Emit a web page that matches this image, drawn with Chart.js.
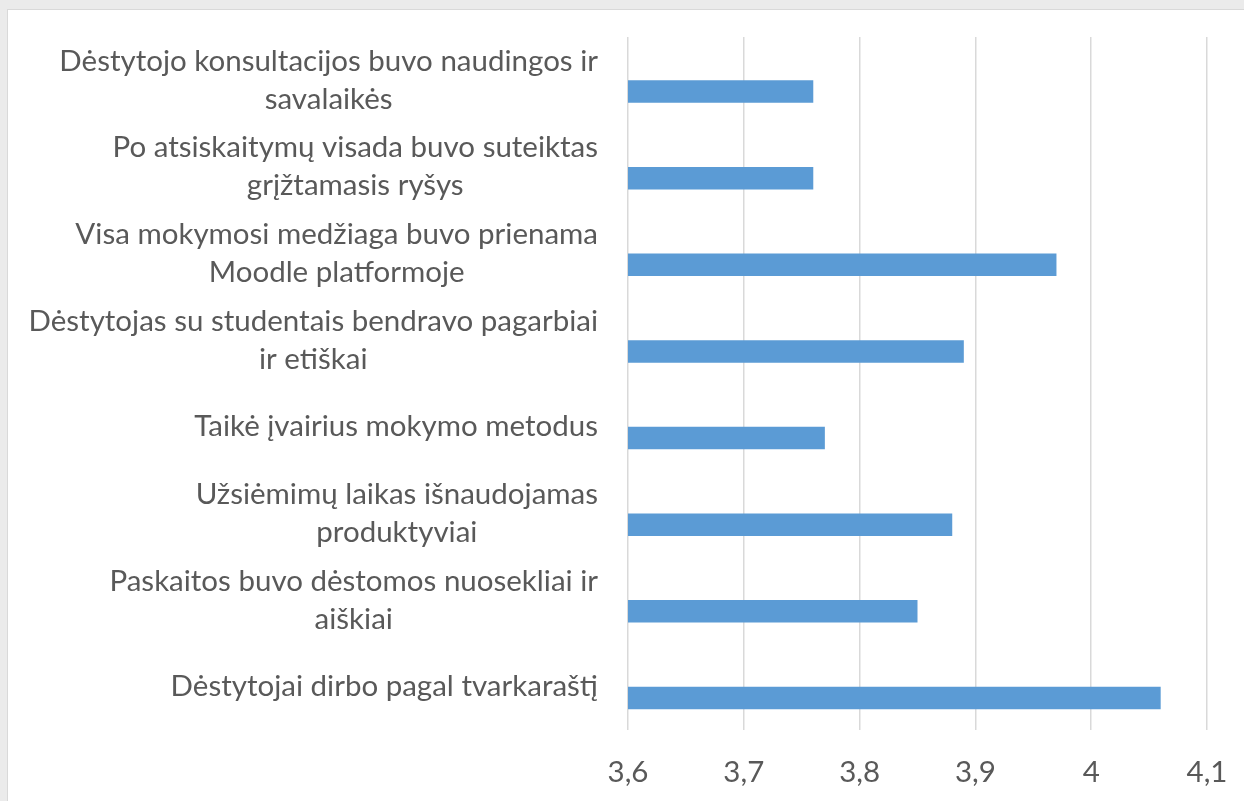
<!DOCTYPE html>
<html>
<head>
<meta charset="utf-8">
<script src="https://cdn.jsdelivr.net/npm/chart.js@4"></script>
<style>
    html, body { margin: 0; padding: 0; background: #ebebeb; overflow: hidden; }
    #frame { position: absolute; left: 7px; top: 9px; width: 1300px; height: 900px; background: #fff; border: 1px solid #d9d9d9; }
    #chart { position: absolute; left: 0; top: 0; }
</style>
</head>
<body>
<div id="frame"></div>
<canvas id="chart" width="1244" height="801"></canvas>
<script>
// Kategorijos (eilutės jau suskaidytos kaip paveikslėlyje)
const categories = [
    ['Dėstytojo konsultacijos buvo naudingos ir', 'savalaikės'],
    ['Po atsiskaitymų visada buvo suteiktas', 'grįžtamasis ryšys'],
    ['Visa mokymosi medžiaga buvo prienama', 'Moodle platformoje'],
    ['Dėstytojas su studentais bendravo pagarbiai', 'ir etiškai'],
    ['Taikė įvairius mokymo metodus'],
    ['Užsiėmimų laikas išnaudojamas', 'produktyviai'],
    ['Paskaitos buvo dėstomos nuosekliai ir', 'aiškiai'],
    ['Dėstytojai dirbo pagal tvarkaraštį']
];

// Vidutiniai įvertinimai
const scores = [3.76, 3.76, 3.97, 3.89, 3.77, 3.88, 3.85, 4.06];

// Ašies ribos
const axisMin = 3.6;
const axisMax = 4.1;
const axisStep = 0.1;

const labelFont = '29.5px Lato';
const textColor = '#595959';

// Kategorijų pavadinimai: blokas lygiuojamas dešinėje, eilutės centruojamos
const categoryLabels = {
    id: 'categoryLabels',
    afterDraw(chart) {
        const ctx = chart.ctx;
        const yScale = chart.scales.y;
        const rightEdge = chart.chartArea.left - 30;
        const lineHeight = 38;
        ctx.save();
        ctx.font = labelFont;
        ctx.fillStyle = textColor;
        ctx.textAlign = 'center';
        ctx.textBaseline = 'middle';
        chart.data.labels.forEach((lines, i) => {
            const y = yScale.getPixelForTick(i);
            const maxW = Math.max(...lines.map(l => ctx.measureText(l).width));
            const cx = rightEdge - maxW / 2;
            const top = y - (lines.length - 1) * lineHeight / 2;
            lines.forEach((l, j) => ctx.fillText(l, cx, top + j * lineHeight));
        });
        ctx.restore();
    }
};

new Chart(document.getElementById('chart'), {
    type: 'bar',
    data: {
        labels: categories,
        datasets: [
            { label: '', data: [] },
            {
                label: 'Vidurkis',
                data: scores,
                backgroundColor: '#5b9bd5',
                borderWidth: 0
            }
        ]
    },
    options: {
        indexAxis: 'y',
        responsive: false,
        animation: false,
        categoryPercentage: 0.52,
        barPercentage: 1,
        layout: { padding: { left: 628, top: 37, right: 37, bottom: 0 } },
        plugins: {
            legend: { display: false },
            tooltip: { enabled: false }
        },
        scales: {
            x: {
                min: axisMin,
                max: axisMax,
                afterFit: scale => {
                    scale.height = 71;
                    scale.paddingLeft = 0;
                    scale.paddingRight = 0;
                },
                border: { display: false },
                grid: { color: '#d9d9d9', lineWidth: 1.5, drawTicks: false },
                ticks: {
                    stepSize: axisStep,
                    padding: 25,
                    color: textColor,
                    font: { family: 'Lato', size: 29.5 },
                    callback: v => String(Math.round(v * 10) / 10).replace('.', ',')
                }
            },
            y: {
                afterFit: scale => { scale.width = 0; },
                border: { display: false },
                grid: { display: false },
                ticks: { display: false }
            }
        }
    },
    plugins: [categoryLabels]
});
</script>
</body>
</html>
